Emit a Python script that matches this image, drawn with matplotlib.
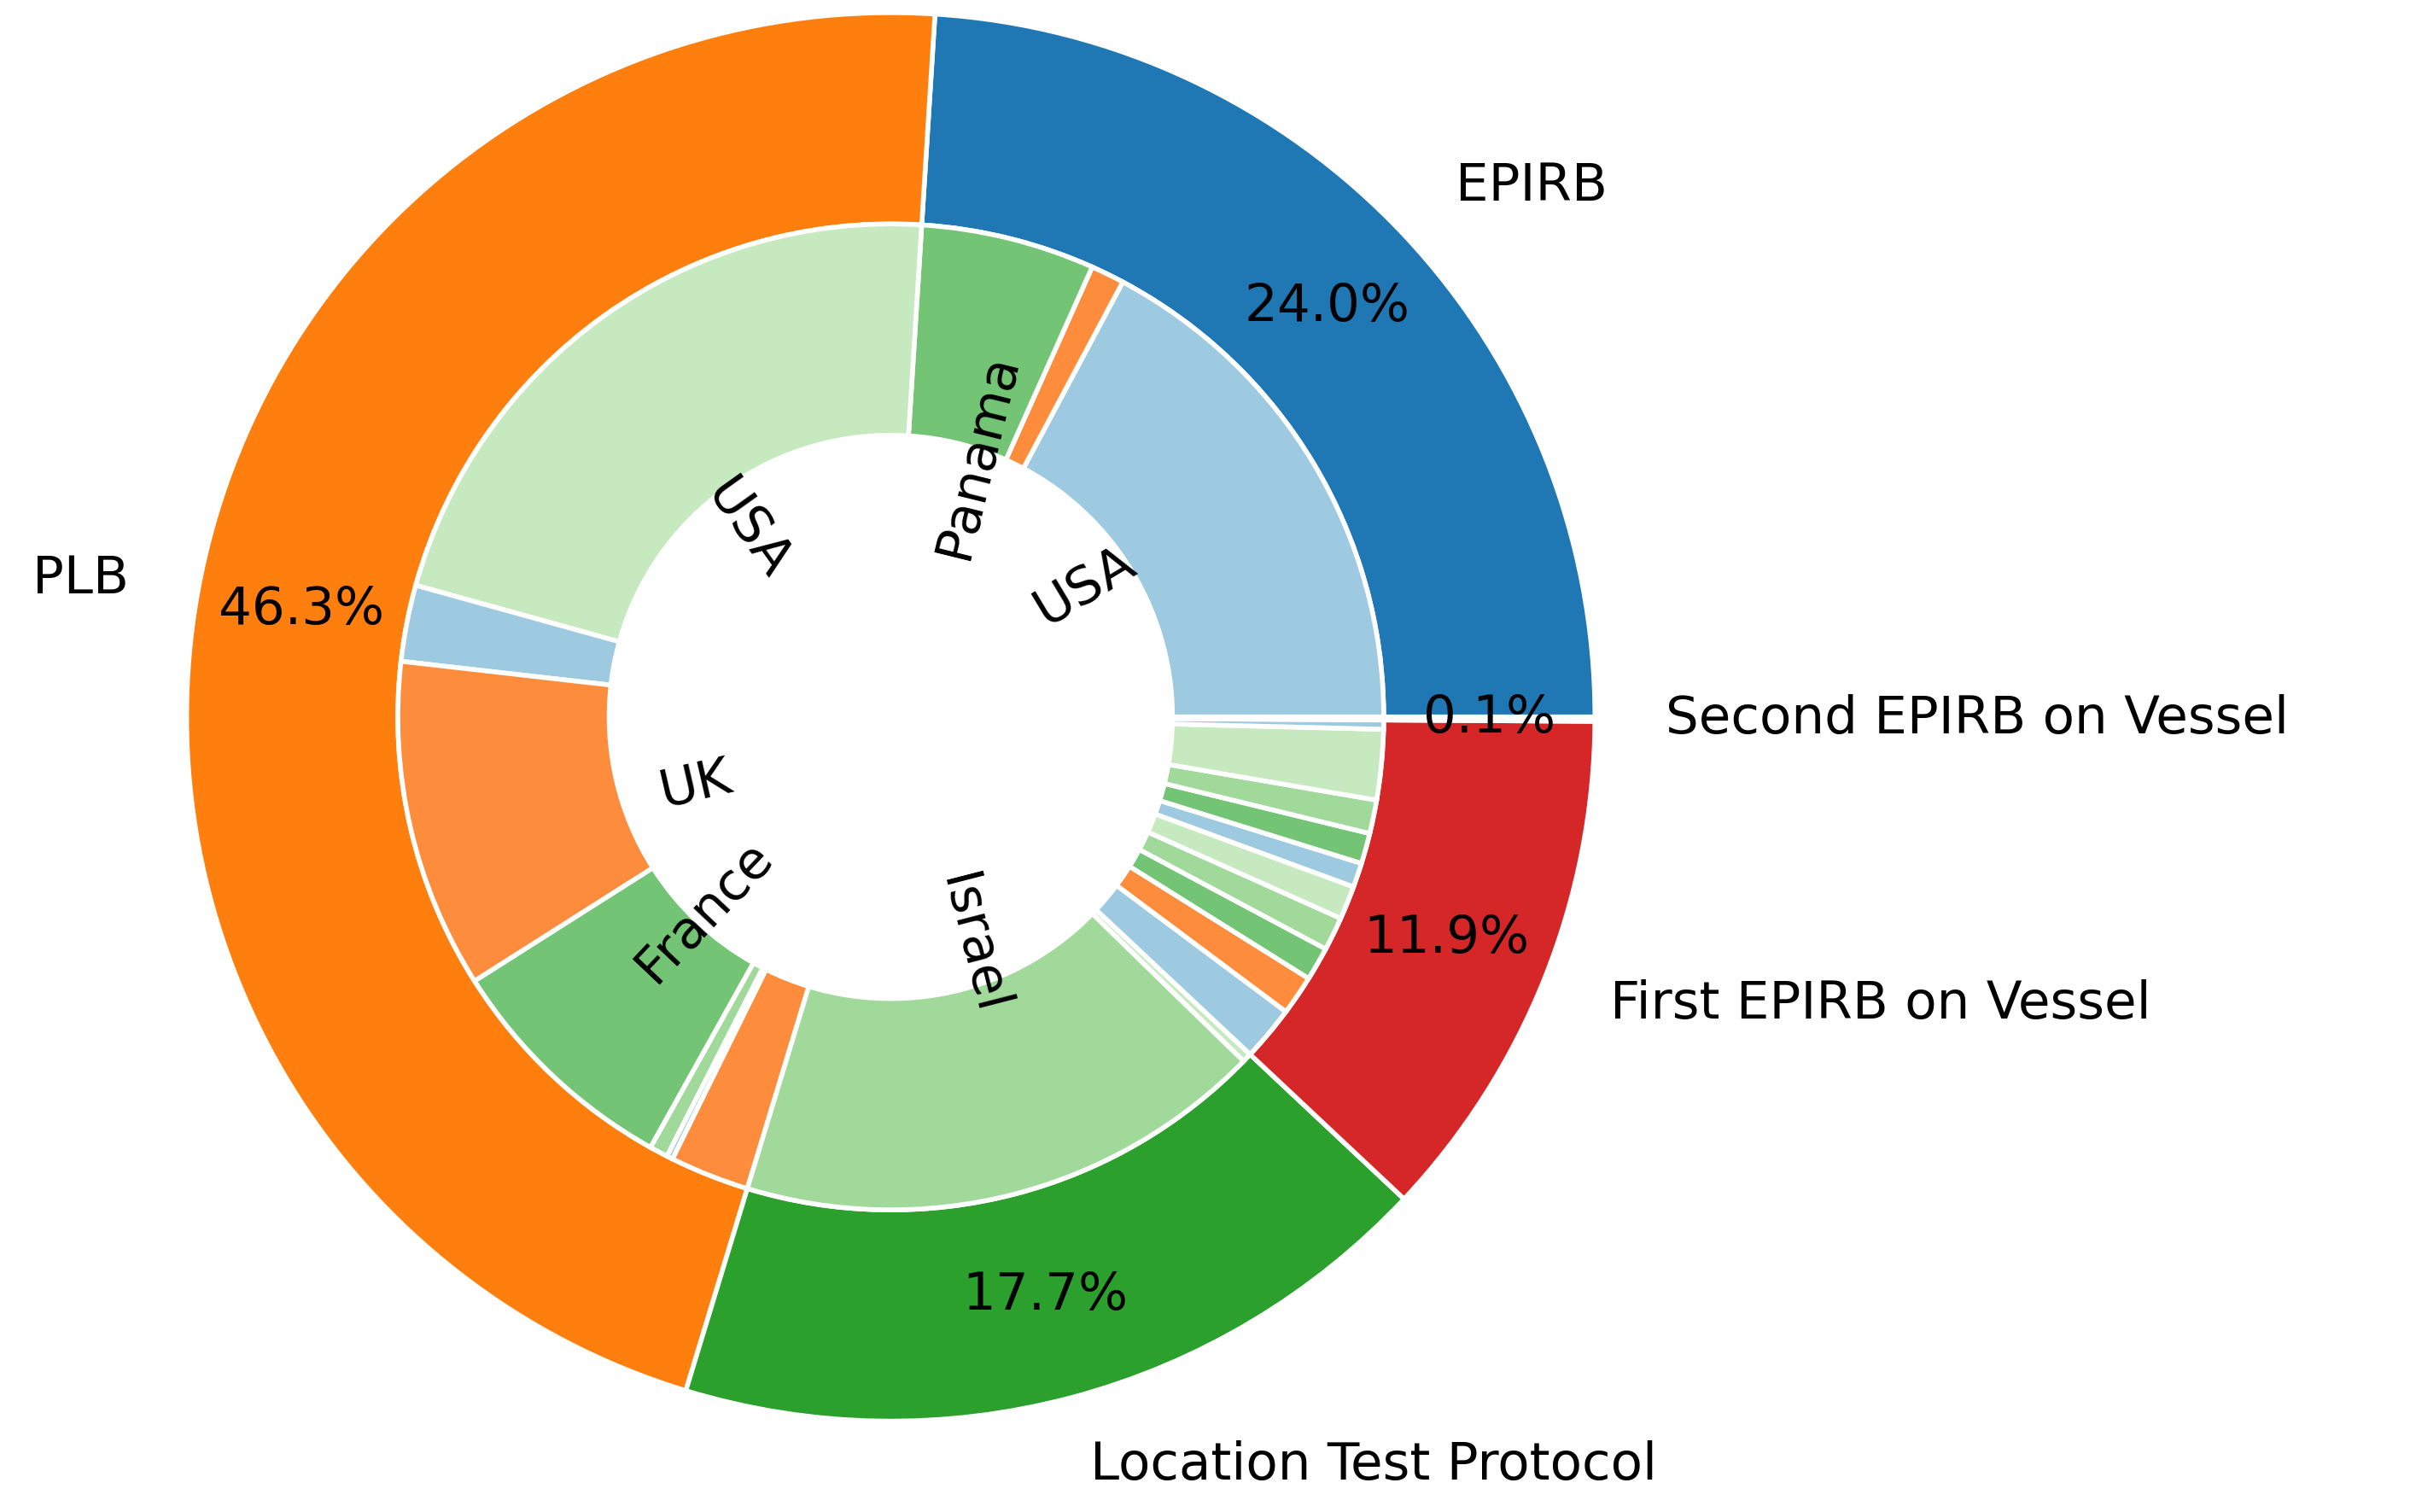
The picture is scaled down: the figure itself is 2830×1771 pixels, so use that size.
import matplotlib
matplotlib.use("Agg")
import matplotlib.pyplot as plt

# outer ring: beacon type shares (%)
outer_labels = ["EPIRB", "PLB", "Location Test Protocol", "First EPIRB on Vessel", "Second EPIRB on Vessel"]
outer_values = [24.0, 46.3, 17.7, 11.9, 0.1]
outer_colors = ["#1f77b4", "#ff7f0e", "#2ca02c", "#d62728", "#9467bd"]

# inner ring: country split inside each beacon type (%)
inner_labels = ["USA", "", "Panama",
                "USA", "", "UK", "France", "", "", "",
                "Israel", "",
                "", "", "", "", "", "", "", "", "", "",
                ""]
inner_values = [17.2, 1.1, 5.7,
                21.7, 2.5, 10.8, 7.9, 0.6, 0.2, 2.6,
                17.4, 0.3,
                1.8, 1.3, 1.1, 1.1, 1.1, 0.8, 1.0, 1.1, 2.3, 0.3,
                0.1]
inner_colors = ["#9ecae1", "#fd8d3c", "#74c476",
                "#c7e9c0", "#9ecae1", "#fd8d3c", "#74c476", "#a1d99b", "#9ecae1", "#fd8d3c",
                "#a1d99b", "#c7e9c0",
                "#9ecae1", "#fd8d3c", "#74c476", "#a1d99b", "#c7e9c0", "#9ecae1", "#74c476", "#a1d99b", "#c7e9c0", "#9ecae1",
                "#9ecae1"]

fig = plt.figure(figsize=(14.15, 8.855), dpi=200)
ax = fig.add_axes([0, 0, 1, 1])

ax.pie(outer_values, labels=outer_labels, colors=outer_colors, radius=1.0,
       autopct="%1.1f%%", pctdistance=0.85, labeldistance=1.1,
       wedgeprops=dict(width=0.3, edgecolor="white", linewidth=2),
       textprops=dict(fontsize=22))

ax.pie(inner_values, labels=inner_labels, colors=inner_colors, radius=0.7,
       labeldistance=0.32, rotatelabels=True,
       wedgeprops=dict(width=0.3, edgecolor="white", linewidth=2),
       textprops=dict(fontsize=22))

ax.set_xlim(-1.265, 2.166)
ax.set_ylim(-1.129, 1.018)
ax.set_aspect("auto")
ax.axis("off")

fig.savefig("out.png", dpi=200)
